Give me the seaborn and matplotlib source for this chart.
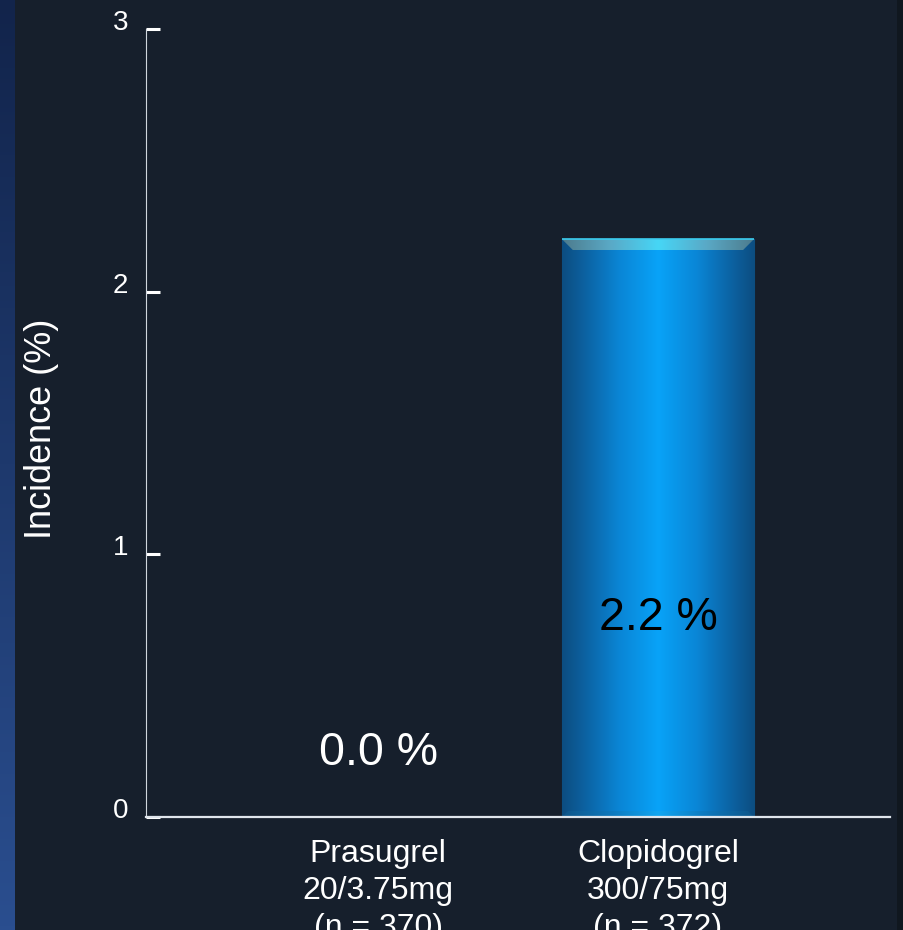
import numpy as np
import pandas as pd
import matplotlib
matplotlib.use("Agg")
import matplotlib.pyplot as plt
import matplotlib.transforms as mtransforms
import seaborn as sns
from matplotlib.colors import LinearSegmentedColormap
from matplotlib.patches import Polygon

# ---- data ----
categories = ["Prasugrel\n20/3.75mg\n(n = 370)", "Clopidogrel\n300/75mg\n(n = 372)"]
incidence = [0.0, 2.2]
value_labels = ["0.0 %", "2.2 %"]
y_ticks = [0, 1, 2, 3]
y_label = "Incidence (%)"

BG = "#161f2c"
sns.set_theme(style="white")
plt.rcParams["font.family"] = ["Liberation Sans", "DejaVu Sans"]

W, H = 904, 930
fig = plt.figure(figsize=(W / 100, H / 100), dpi=100, facecolor=BG)

# blue band down the left edge of the slide
band = fig.add_axes([0, 0, 15 / W, 1])
band.imshow(np.linspace(0, 1, 256)[:, None], aspect="auto",
            cmap=LinearSegmentedColormap.from_list("band", ["#12244b", "#2a4e8f"]))
band.axis("off")
edge = fig.add_axes([897 / W, 0, 6 / W, 1])
edge.set_facecolor("#10171f")
edge.set_xticks([]); edge.set_yticks([])
for s in edge.spines.values():
    s.set_visible(False)
edge2 = fig.add_axes([903 / W, 0, 1 / W, 1])
edge2.set_facecolor("#2a4e8f")
edge2.set_xticks([]); edge2.set_yticks([])
for s in edge2.spines.values():
    s.set_visible(False)

ax = fig.add_axes([146 / W, (H - 817) / H, (890 - 146) / W, (817 - 29) / H])
ax.set_facecolor(BG)

df = pd.DataFrame({"group": categories, "incidence": incidence})
sns.barplot(data=df, x="group", y="incidence", ax=ax, width=0.686,
            color="#0a8fe0", saturation=1, edgecolor="#0c4a78", linewidth=0.8)

ax.set_xlim(-0.829, 1.829)
ax.set_ylim(0, 3)

# pixel size in data units, for the bevel geometry
px_x = 1.0 / (ax.transData.transform((1, 0))[0] - ax.transData.transform((0, 0))[0])
px_y = 1.0 / (ax.transData.transform((0, 1))[1] - ax.transData.transform((0, 0))[1])

body_cmap = LinearSegmentedColormap.from_list(
    "body", [(0.0, "#0d4d80"), (0.12, "#0c62a2"), (0.3, "#0a86d6"),
             (0.5, "#08a3f8"), (0.7, "#0a86d6"), (0.88, "#0c62a2"), (1.0, "#0d4d80")])
top_cmap = LinearSegmentedColormap.from_list(
    "top", ["#4d7b8c", "#5aa9c6", "#46d6f6", "#5aa9c6", "#4d7b8c"])
bottom_cmap = LinearSegmentedColormap.from_list(
    "bottom", ["#0f5588", "#0d78bd", "#11a6f2", "#0d78bd", "#0f5588"])

ramp = np.linspace(0, 1, 256)[None, :]
for p in list(ax.patches):
    h = p.get_height()
    if h <= 0:
        continue
    x0, w = p.get_x(), p.get_width()
    z = p.get_zorder()
    im = ax.imshow(ramp, cmap=body_cmap, aspect="auto", extent=[x0, x0 + w, 0, h],
                   zorder=z + 0.1, interpolation="bicubic")
    im.set_clip_path(p)

    # top bevel
    bx, by = 11 * px_x, 11 * px_y
    top = Polygon([(x0, h), (x0 + w, h), (x0 + w - bx, h - by), (x0 + bx, h - by)],
                  closed=True, facecolor="none", edgecolor="none")
    ax.add_patch(top)
    im2 = ax.imshow(ramp, cmap=top_cmap, aspect="auto", extent=[x0, x0 + w, h - by, h],
                    zorder=z + 0.2, interpolation="bicubic")
    im2.set_clip_path(top)
    ax.plot([x0, x0 + w], [h, h], color="#3ccdf0", lw=1.2, zorder=z + 0.3,
            solid_capstyle="butt")

    # bottom bevel
    bx2, by2 = 6 * px_x, 6 * px_y
    bot = Polygon([(x0, 0), (x0 + w, 0), (x0 + w - bx2, by2), (x0 + bx2, by2)],
                  closed=True, facecolor="none", edgecolor="none")
    ax.add_patch(bot)
    im3 = ax.imshow(ramp, cmap=bottom_cmap, aspect="auto", extent=[x0, x0 + w, 0, by2],
                    zorder=z + 0.2, interpolation="bicubic")
    im3.set_clip_path(bot)

ax.set_xlim(-0.829, 1.829)
ax.set_ylim(0, 3)

# value labels
for i, (v, txt) in enumerate(zip(incidence, value_labels)):
    if v > 0:
        ax.text(i, v * 0.345, txt, ha="center", va="center", fontsize=33.5,
                color="black", zorder=6)
    else:
        ax.text(i, 0.245, txt, ha="center", va="center", fontsize=33.5,
                color="white", zorder=6)

# axes styling
ax.set_yticks(y_ticks)
ax.set_yticklabels([str(t) for t in y_ticks])
ax.tick_params(axis="y", direction="in", length=10, width=2.2, color="white",
               labelcolor="white", labelsize=20, pad=13, left=True)
lift = mtransforms.ScaledTranslation(0, 9 / 100, fig.dpi_scale_trans)
for lbl in ax.get_yticklabels():
    lbl.set_transform(lbl.get_transform() + lift)
ax.tick_params(axis="x", length=0, labelsize=23, labelcolor="white", pad=16)
for lbl in ax.get_xticklabels():
    lbl.set_linespacing(1.31)
ax.set_xlabel("")
ax.set_ylabel(y_label, fontsize=26, color="white")
ax.yaxis.set_label_coords(-0.117, 0.493)

for s in ("top", "right"):
    ax.spines[s].set_visible(False)
ax.spines["left"].set_color("#d0d6de")
ax.spines["left"].set_linewidth(0.8)
ax.spines["bottom"].set_color("#dfe5ec")
ax.spines["bottom"].set_linewidth(1.6)
ax.grid(False)

fig.savefig("out.png", dpi=100, facecolor=BG)
